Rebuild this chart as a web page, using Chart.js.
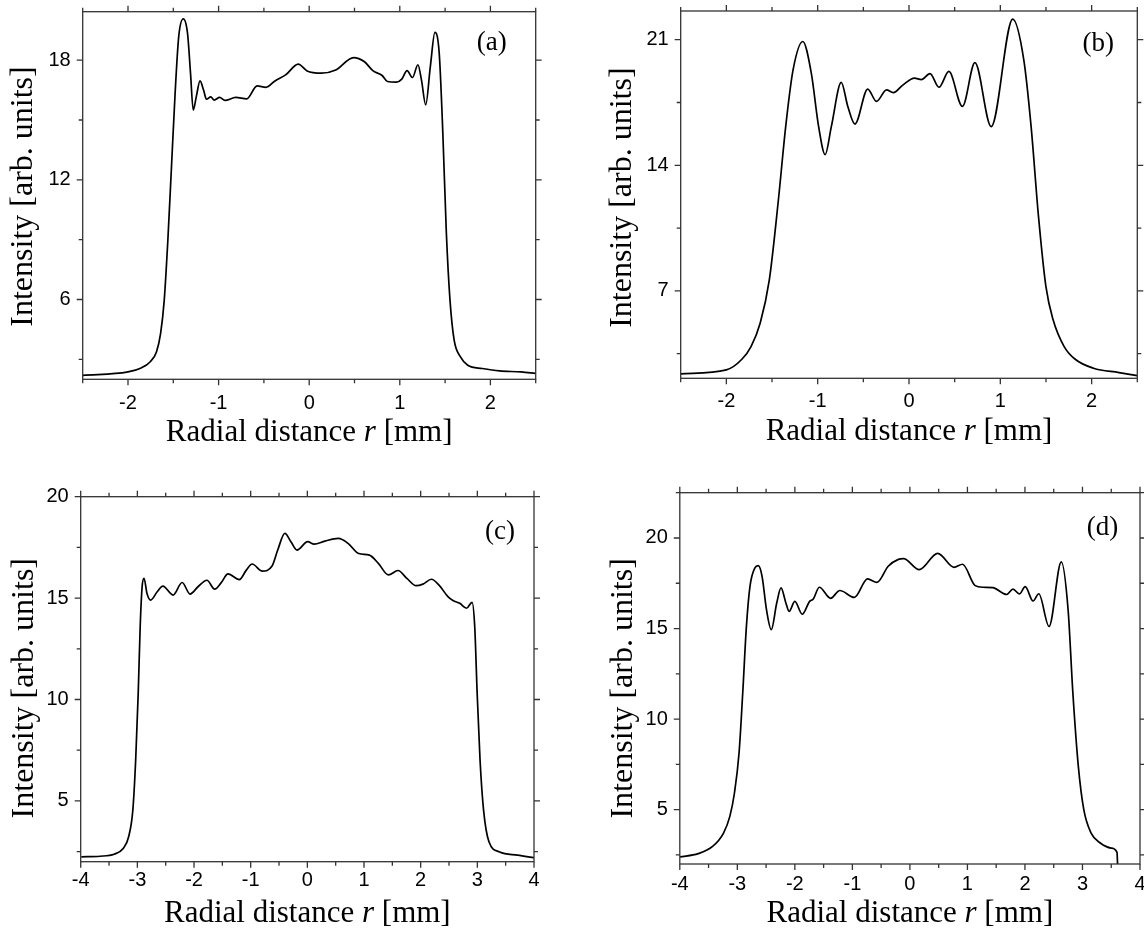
<!DOCTYPE html>
<html>
<head>
<meta charset="utf-8">
<script src="https://cdn.jsdelivr.net/npm/chart.js@4.4.1/dist/chart.umd.min.js"></script>
<style>
  body { margin: 0; background: #fff; }
  #wrap { position: relative; width: 1144px; height: 929px; background: #fff; }
  #wrap canvas { position: absolute; }
</style>
</head>
<body>
<div id="wrap">
  <canvas id="panelA" width="572" height="464" style="left:0;top:0"></canvas>
  <canvas id="panelB" width="572" height="464" style="left:572px;top:0"></canvas>
  <canvas id="panelC" width="572" height="465" style="left:0;top:464px"></canvas>
  <canvas id="panelD" width="572" height="465" style="left:572px;top:464px"></canvas>
</div>
<script>
// --- Data ---
// panel (a)
const rA = [-2.5, -2.0, -1.855, -1.757, -1.686, -1.64, -1.6, -1.56, -1.52, -1.48, -1.44, -1.39, -1.343, -1.31, -1.28,
  -1.245, -1.205, -1.166, -1.134, -1.087, -1.048, -0.989, -0.93, -0.81, -0.69, -0.575, -0.477, -0.378, -0.26, -0.121,
  -0.023, 0.135, 0.293, 0.49, 0.607, 0.706, 0.805, 0.864, 0.963, 1.022, 1.08, 1.14, 1.2, 1.239, 1.286, 1.337, 1.388,
  1.435, 1.475, 1.514, 1.554, 1.6, 1.67, 1.75, 1.91, 2.1, 2.34, 2.5];
const intensityA = [2.2, 2.37, 2.57, 2.87, 3.37, 4.3, 5.97, 8.98, 12.66, 16.34, 19.19, 20.07, 19.35, 17.35, 15.5,
  16.2, 16.96, 16.5, 16.04, 16.16, 16.0, 16.13, 15.98, 16.13, 16.06, 16.71, 16.64, 16.96, 17.26, 17.8,
  17.46, 17.35, 17.51, 18.13, 17.93, 17.46, 17.23, 16.93, 16.9, 17.05, 17.48, 17.13, 17.77, 17.01, 15.76, 17.68, 19.39,
  18.35, 14.34, 9.32, 5.97, 3.96, 3.12, 2.7, 2.54, 2.42, 2.37, 2.29];

// panel (b)
const rB = [-2.5, -2.0, -1.83, -1.73, -1.63, -1.53, -1.43, -1.35, -1.27, -1.163, -1.07, -0.99, -0.918, -0.85, -0.742,
  -0.67, -0.592, -0.452, -0.356, -0.246, -0.172, -0.068, 0.06, 0.135, 0.23, 0.328, 0.437, 0.585, 0.722, 0.9, 1.136,
  1.257, 1.337, 1.418, 1.499, 1.578, 1.699, 1.82, 2.02, 2.3, 2.5];
const intensityB = [2.38, 2.6, 3.19, 3.9, 5.2, 7.6, 12.08, 16.17, 19.3, 20.9, 19.14, 16.17, 14.6, 16.17, 18.62,
  17.28, 16.3, 18.25, 17.56, 18.2, 18.05, 18.47, 18.86, 18.78, 19.11, 18.35, 19.23, 17.28, 19.72, 16.16, 22.15,
  19.88, 16.17, 11.15, 7.25, 5.39, 3.9, 3.19, 2.69, 2.45, 2.28];

// panel (c)
const rC = [-3.99, -3.66, -3.41, -3.25, -3.155, -3.08, -3.03, -2.985, -2.95, -2.916, -2.882, -2.83, -2.766, -2.65,
  -2.55, -2.37, -2.21, -2.07, -1.93, -1.772, -1.635, -1.52, -1.40, -1.2, -1.077, -0.975, -0.795, -0.623, -0.523,
  -0.397, -0.29, -0.183, 0.006, 0.12, 0.31, 0.548, 0.718, 0.907, 1.096, 1.253, 1.432, 1.6, 1.757, 1.92, 2.04, 2.19,
  2.324, 2.481, 2.57, 2.69, 2.81, 2.907, 2.954, 2.997, 3.048, 3.11, 3.205, 3.394, 3.709, 4.0];
const intensityC = [2.24, 2.27, 2.37, 2.65, 3.22, 4.54, 7.0, 10.3, 13.6, 15.56, 15.97, 15.23, 14.9, 15.31,
  15.59, 15.15, 15.77, 15.2, 15.56, 15.88, 15.44, 15.76, 16.19, 15.91, 16.38, 16.68, 16.33, 16.58, 17.37,
  18.19, 17.78, 17.37, 17.78, 17.66, 17.81, 17.94, 17.7, 17.2, 17.12, 16.71, 16.14, 16.36, 15.97, 15.61, 15.69, 15.93,
  15.64, 15.07, 14.88, 14.74, 14.5, 14.79, 13.59, 10.3, 7.0, 4.54, 2.98, 2.48, 2.32, 2.2];

// panel (d)
const rD = [-4.0, -3.68, -3.43, -3.24, -3.13, -3.05, -2.97, -2.906, -2.842, -2.78, -2.697, -2.635, -2.57, -2.493,
  -2.41, -2.315, -2.24, -2.156, -2.1, -2.0, -1.872, -1.743, -1.68, -1.575, -1.378, -1.218, -0.966, -0.736, -0.572,
  -0.377, -0.2, -0.11, 0.161, 0.484, 0.766, 0.915, 1.135, 1.275, 1.44, 1.682, 1.792, 1.903, 2.005, 2.141, 2.241,
  2.419, 2.632, 2.75, 2.833, 2.928, 3.023, 3.15, 3.31, 3.5, 3.6, 3.61];
const intensityD = [2.39, 2.57, 2.97, 3.71, 4.63, 5.92, 8.13, 11.44, 15.12, 17.33, 18.34, 18.47, 17.88, 16.04,
  14.94, 16.41, 17.24, 16.41, 15.95, 16.5, 15.79, 16.5, 16.63, 17.28, 16.67, 17.1, 16.72, 17.74, 17.55,
  18.44, 18.82, 18.86, 18.25, 19.15, 18.38, 18.55, 17.37, 17.28, 17.26, 16.88, 17.18, 16.91, 17.31, 16.52, 16.92,
  15.12, 18.68, 16.04, 11.44, 7.39, 5.0, 3.71, 3.16, 2.88, 2.64, 2.0];

// tick labels
const xTicksAB = [-2, -1, 0, 1, 2];
const xTicksCD = [-4, -3, -2, -1, 0, 1, 2, 3, 4];
const yTicksA = [6, 12, 18];
const yTicksB = [7, 14, 21];
const yTicksC = [5, 10, 15, 20];
const yTicksD = [5, 10, 15, 20];

const yTitle = 'Intensity [arb. units]';
const xTitleParts = ['Radial distance ', 'r', ' [mm]'];

// --- Drawing ---
const SERIF = '"Liberation Serif", "Times New Roman", serif';
const SANS = '"Liberation Sans", Arial, sans-serif';

const framePlugin = {
  id: 'frame',
  afterDraw(chart, args, o) {
    const { ctx, chartArea: a, scales: { x, y } } = chart;
    ctx.save();
    ctx.strokeStyle = '#333';
    ctx.lineWidth = 1.3;
    ctx.strokeRect(a.left, a.top, a.right - a.left, a.bottom - a.top);

    // outward ticks on all four sides, minor ones shorter
    const eachStep = (scale, step, majors, fn) => {
      for (let v = Math.ceil((scale.min - 1e-9) / step) * step; v <= scale.max + 1e-9; v += step) {
        const isMajor = majors.some(m => Math.abs(m - v) < 1e-6);
        fn(scale.getPixelForValue(v), isMajor ? 6 : 4);
      }
    };
    ctx.beginPath();
    eachStep(x, o.xMinor, o.xMajor, (px, len) => {
      ctx.moveTo(px, a.bottom); ctx.lineTo(px, a.bottom + len);
      ctx.moveTo(px, a.top); ctx.lineTo(px, a.top - len);
    });
    eachStep(y, o.yMinor, o.yMajor, (py, len) => {
      ctx.moveTo(a.left, py); ctx.lineTo(a.left - len, py);
      ctx.moveTo(a.right, py); ctx.lineTo(a.right + len, py);
    });
    ctx.stroke();

    ctx.fillStyle = '#000';
    // y title
    ctx.save();
    ctx.translate(a.left + o.yTitleDx, (a.top + a.bottom) / 2 + o.yTitleDy);
    ctx.rotate(-Math.PI / 2);
    ctx.font = '32px ' + SERIF;
    ctx.textAlign = 'center';
    ctx.textBaseline = 'middle';
    ctx.fillText(yTitle, 0, 0);
    ctx.restore();

    // x title with italic r
    const fonts = ['31px ' + SERIF, 'italic 31px ' + SERIF, '31px ' + SERIF];
    const widths = xTitleParts.map((t, i) => { ctx.font = fonts[i]; return ctx.measureText(t).width; });
    let tx = (a.left + a.right) / 2 - widths.reduce((s, w) => s + w, 0) / 2;
    ctx.textAlign = 'left';
    ctx.textBaseline = 'alphabetic';
    xTitleParts.forEach((t, i) => {
      ctx.font = fonts[i];
      ctx.fillText(t, tx, a.bottom + o.xTitleDy);
      tx += widths[i];
    });

    // panel letter
    ctx.font = '27px ' + SERIF;
    ctx.textAlign = 'center';
    ctx.textBaseline = 'middle';
    ctx.fillText(o.label, a.right - o.labelDx, a.top + o.labelDy);
    ctx.restore();
  }
};

function makePanel(id, r, vals, opt) {
  const canvas = document.getElementById(id);
  const W = canvas.width, H = canvas.height;
  new Chart(canvas, {
    type: 'line',
    data: {
      datasets: [{
        data: r.map((v, i) => ({ x: v, y: vals[i] })),
        borderColor: '#000',
        borderWidth: 1.7,
        pointRadius: 0,
        fill: false,
        cubicInterpolationMode: 'monotone'
      }]
    },
    options: {
      responsive: false,
      animation: false,
      devicePixelRatio: 1,
      layout: { padding: { left: 0, top: opt.area.top, right: W - opt.area.right, bottom: 0 } },
      plugins: {
        legend: { display: false },
        tooltip: { enabled: false },
        frame: {
          label: opt.label, labelDx: opt.labelDx, labelDy: opt.labelDy,
          xMajor: opt.xTicks, yMajor: opt.yTicks, xMinor: 0.5, yMinor: opt.yMinor,
          yTitleDx: opt.yTitleDx, yTitleDy: opt.yTitleDy, xTitleDy: opt.xTitleDy
        }
      },
      scales: {
        x: {
          type: 'linear', min: opt.xMin, max: opt.xMax,
          grid: { display: false, drawTicks: false },
          border: { display: false },
          afterBuildTicks: s => { s.ticks = opt.xTicks.map(v => ({ value: v })); },
          ticks: { color: '#000', font: { family: SANS, size: 20 }, padding: opt.xPad, maxRotation: 0 },
          afterFit: s => { s.height = H - opt.area.bottom; s.paddingLeft = 0; s.paddingRight = 0; }
        },
        y: {
          type: 'linear', min: opt.yMin, max: opt.yMax,
          grid: { display: false, drawTicks: false },
          border: { display: false },
          afterBuildTicks: s => { s.ticks = opt.yTicks.map(v => ({ value: v })); },
          ticks: { color: '#000', font: { family: SANS, size: 20 }, padding: 12 },
          afterFit: s => { s.width = opt.area.left; s.paddingTop = 0; s.paddingBottom = 0; }
        }
      }
    },
    plugins: [framePlugin]
  });
}

makePanel('panelA', rA, intensityA, {
  area: { left: 82.7, right: 535.7, top: 11.7, bottom: 379.3 },
  xMin: -2.5, xMax: 2.5, yMin: 2, yMax: 20.43, xTicks: xTicksAB, yTicks: yTicksA, yMinor: 3,
  xPad: 12, label: '(a)', labelDx: 44, labelDy: 31, yTitleDx: -59, yTitleDy: 1, xTitleDy: 62
});
makePanel('panelB', rB, intensityB, {
  area: { left: 108.7, right: 565.3, top: 11, bottom: 378.3 },
  xMin: -2.5, xMax: 2.5, yMin: 2.13, yMax: 22.6, xTicks: xTicksAB, yTicks: yTicksB, yMinor: 3.5,
  xPad: 11, label: '(b)', labelDx: 39, labelDy: 33, yTitleDx: -58.5, yTitleDy: 3, xTitleDy: 62
});
makePanel('panelC', rC, intensityC, {
  area: { left: 80.7, right: 534, top: 32.7, bottom: 397.7 },
  xMin: -4, xMax: 4, yMin: 2, yMax: 20, xTicks: xTicksCD, yTicks: yTicksC, yMinor: 2.5,
  xPad: 7, label: '(c)', labelDx: 34, labelDy: 35, yTitleDx: -55.7, yTitleDy: 9, xTitleDy: 60
});
makePanel('panelD', rD, intensityD, {
  area: { left: 107.8, right: 568, top: 28.7, bottom: 400 },
  xMin: -4, xMax: 4, yMin: 2, yMax: 22.5, xTicks: xTicksCD, yTicks: yTicksD, yMinor: 2.5,
  xPad: 8, label: '(d)', labelDx: 37.5, labelDy: 35.6, yTitleDx: -56, yTitleDy: 10, xTitleDy: 58
});
</script>
</body>
</html>
